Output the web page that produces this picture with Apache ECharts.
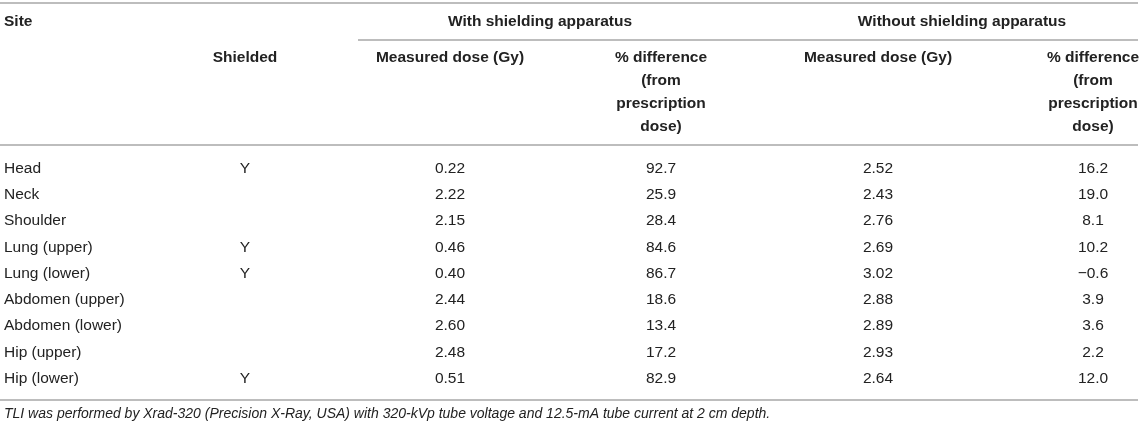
<!DOCTYPE html>
<html lang="en">
<head>
    <meta charset="UTF-8">
    <title>Dose table</title>
    <style>
        html, body { margin: 0; padding: 0; background: #fff; }
    </style>
</head>
<body>
<div id="main" style="width:1142px; height:427px"></div>

<script src="https://cdn.jsdelivr.net/npm/echarts@6/dist/echarts.min.js"></script>
<script>
    // table data
    var sites = ['Head', 'Neck', 'Shoulder', 'Lung (upper)', 'Lung (lower)',
        'Abdomen (upper)', 'Abdomen (lower)', 'Hip (upper)', 'Hip (lower)'];
    var shielded = ['Y', '', '', 'Y', 'Y', '', '', '', 'Y'];
    var withDose = [0.22, 2.22, 2.15, 0.46, 0.40, 2.44, 2.60, 2.48, 0.51];
    var withDiff = [92.7, 25.9, 28.4, 84.6, 86.7, 18.6, 13.4, 17.2, 82.9];
    var withoutDose = [2.52, 2.43, 2.76, 2.69, 3.02, 2.88, 2.89, 2.93, 2.64];
    var withoutDiff = [16.2, 19.0, 8.1, 10.2, -0.6, 3.9, 3.6, 2.2, 12.0];

    var groupHeaders = ['With shielding apparatus', 'Without shielding apparatus'];
    var colHeaders = ['Shielded', 'Measured dose (Gy)', '% difference\n(from\nprescription\ndose)',
        'Measured dose (Gy)', '% difference\n(from\nprescription\ndose)'];
    var footnote = 'TLI was performed by Xrad-320 (Precision X-Ray, USA) with 320-kVp tube voltage and 12.5-mA tube current at 2 cm depth.';

    // layout (pixels)
    var COL_X = [245, 450, 661, 878, 1093];
    var GROUP_X = [540, 962];
    var FONT = '"Liberation Sans", Arial, Helvetica, sans-serif';
    var TXT = '#222';
    var RULE = '#bdbdbd';
    var RIGHT = 1138;
    var ROW_H = 26.25;

    function fmtDiff(v) {
        var s = Math.abs(v).toFixed(1);
        return v < 0 ? '\u2212' + s : s;
    }

    var columns = [
        shielded,
        withDose.map(function (v) { return v.toFixed(2); }),
        withDiff.map(fmtDiff),
        withoutDose.map(function (v) { return v.toFixed(2); }),
        withoutDiff.map(fmtDiff)
    ];

    var cellData = [];
    columns.forEach(function (col, c) {
        col.forEach(function (txt, r) {
            cellData.push([COL_X[c], r, txt]);
        });
    });

    function rule(x1, y, x2) {
        return {
            type: 'line', silent: true,
            shape: {x1: x1, y1: y, x2: x2, y2: y},
            style: {stroke: RULE, lineWidth: 2}
        };
    }

    function label(text, x, y, opt) {
        opt = opt || {};
        return {
            type: 'text', silent: true, x: x, y: y,
            style: {
                text: text,
                font: (opt.italic ? 'italic ' : '') + (opt.bold ? 'bold ' : '') + (opt.size || 15.5) + 'px ' + FONT,
                fill: TXT,
                align: opt.align || 'center',
                textAlign: opt.align || 'center',
                verticalAlign: opt.va || 'middle',
                textVerticalAlign: opt.va || 'middle',
                lineHeight: 23
            }
        };
    }

    var graphics = [
        rule(0, 3, RIGHT),
        rule(358, 40, RIGHT),
        rule(0, 145, RIGHT),
        rule(0, 400, RIGHT),
        label('Site', 4, 22, {bold: true, align: 'left'}),
        label(groupHeaders[0], GROUP_X[0], 22, {bold: true}),
        label(groupHeaders[1], GROUP_X[1], 22, {bold: true}),
        label(footnote, 4, 414, {italic: true, align: 'left', size: 14})
    ];
    colHeaders.forEach(function (h, i) {
        graphics.push(label(h, COL_X[i], 46, {bold: true, va: 'top'}));
    });

    var myChart = echarts.init(document.getElementById('main'));
    var option = {
        animation: false,
        grid: {left: 0, right: 0, top: 168.5 - ROW_H / 2, height: 9 * ROW_H},
        xAxis: {
            type: 'value', min: 0, max: 1142, show: false
        },
        yAxis: {
            type: 'category',
            data: sites,
            inverse: true,
            axisLine: {show: false},
            axisTick: {show: false},
            splitLine: {show: false},
            axisLabel: {
                inside: true, margin: 4, align: 'left',
                color: TXT, fontSize: 15.5, fontFamily: FONT
            }
        },
        graphic: graphics,
        series: [{
            type: 'custom',
            data: cellData,
            renderItem: function (params, api) {
                var p = api.coord([api.value(0), api.value(1)]);
                return {
                    type: 'text', x: p[0], y: p[1],
                    style: {
                        text: cellData[params.dataIndex][2],
                        font: '15.5px ' + FONT,
                        fill: TXT,
                        align: 'center',
                        verticalAlign: 'middle'
                    }
                };
            }
        }]
    };
    myChart.setOption(option);
</script>
</body>
</html>
